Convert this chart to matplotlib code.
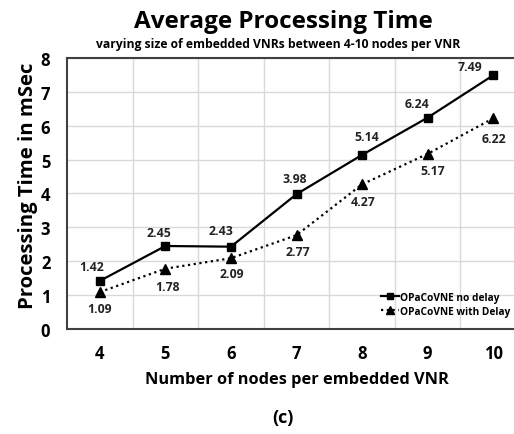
import numpy as np
import matplotlib.pyplot as plt

plt.rcParams['font.family'] = ['Open Sans', 'DejaVu Sans']
plt.rcParams['font.weight'] = 'bold'

nodes = [4, 5, 6, 7, 8, 9, 10]
no_delay = [1.42, 2.45, 2.43, 3.98, 5.14, 6.24, 7.49]
with_delay = [1.09, 1.78, 2.09, 2.77, 4.27, 5.17, 6.22]

# label offsets in points (dx, dy)
no_delay_off = [(-6, 10), (-5, 10), (-7, 11.5), (-1.5, 11), (3.5, 13), (-8, 10), (-16.5, 6)]
with_delay_off = [(0, -11.5), (1.5, -13), (0.7, -11), (0.7, -12), (0.7, -12), (3.6, -12), (0.7, -14.5)]

fig = plt.figure(figsize=(5.14, 4.35), dpi=100)
ax = fig.add_axes([0.1304, 0.2414, 0.893, 0.623])

ax.plot(nodes, no_delay, color='black', lw=1.6, marker='s', ms=5.8,
        label='OPaCoVNE no delay', zorder=3)
ax.plot(nodes, with_delay, color='black', lw=1.6, ls=(0, (1, 1.6)), marker='^',
        ms=6.5, label='OPaCoVNE with Delay', zorder=3)

for x, y, (dx, dy) in zip(nodes, no_delay, no_delay_off):
    ax.annotate(f'{y:.2f}', (x, y), xytext=(dx, dy), textcoords='offset points',
                ha='center', va='center', fontsize=8.8, fontweight='bold', color='#222222')
for x, y, (dx, dy) in zip(nodes, with_delay, with_delay_off):
    ax.annotate(f'{y:.2f}', (x, y), xytext=(dx, dy), textcoords='offset points',
                ha='center', va='center', fontsize=8.8, fontweight='bold', color='#222222')

ax.set_xlim(3.5, 10.5)
ax.set_ylim(0, 8)
ax.set_xticks(nodes)
ax.set_xticks(np.arange(4.5, 10.5, 1), minor=True)
ax.set_yticks(range(0, 9))
ax.grid(True, which='major', axis='y', color='#d9d9d9', lw=1)
ax.grid(True, which='minor', axis='x', color='#d9d9d9', lw=1)
ax.tick_params(which='both', length=0)
ax.tick_params(axis='y', labelsize=12, pad=12)
ax.tick_params(axis='x', labelsize=12, pad=11)
for lbl in ax.get_xticklabels() + ax.get_yticklabels():
    lbl.set_fontweight('bold')
for s in ax.spines.values():
    s.set_color('#404040')
    s.set_linewidth(1.5)
ax.set_axisbelow(True)

fig.text(0.578, 0.126, 'Number of nodes per embedded VNR', ha='center', va='center',
         fontsize=11.8, fontweight='bold')
fig.text(0.055, 0.573, 'Processing Time in mSec', ha='center', va='center',
         rotation=90, fontsize=14.6, fontweight='bold')

fig.text(0.551, 0.949, 'Average Processing Time', ha='center', va='center',
         fontsize=17.5, fontweight='bold')
fig.text(0.541, 0.897, 'varying size of embedded VNRs between 4-10 nodes per VNR',
         ha='center', va='center', fontsize=8.7, fontweight='bold')
fig.text(0.551, 0.04, '(c)', ha='center', va='center', fontsize=13, fontweight='bold')

leg = ax.legend(loc='lower right', bbox_to_anchor=(0.975, 0.03), frameon=False,
                fontsize=7.3, handlelength=1.8, handletextpad=0.1,
                labelspacing=0.3, borderaxespad=0, markerscale=0.8)

fig.savefig('out.png', dpi=100)
